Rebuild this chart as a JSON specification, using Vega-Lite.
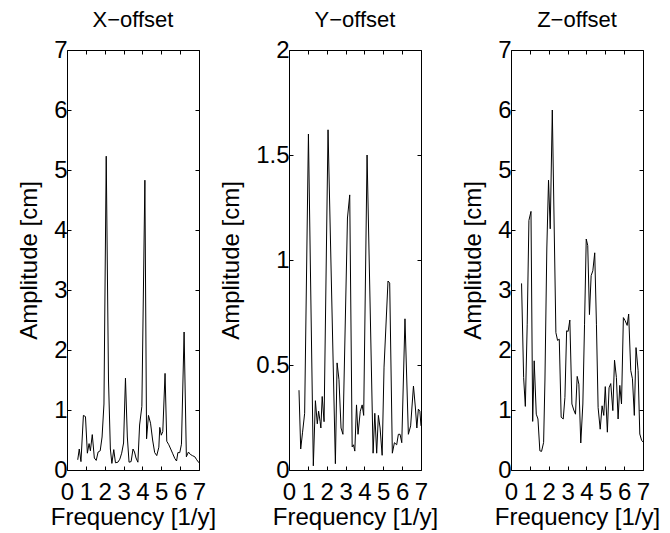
{
  "$schema": "https://vega.github.io/schema/vega-lite/v6.json",
  "background": "white",
  "padding": {"left": 17, "top": 9, "right": 3, "bottom": 3},
  "datasets": {
    "X": [
      {"f":0.57,"a":0.17},{"f":0.65,"a":0.35},{"f":0.74,"a":0.14},{"f":0.87,"a":0.91},{"f":0.98,"a":0.89},{"f":1.08,"a":0.28},{"f":1.17,"a":0.44},{"f":1.24,"a":0.32},{"f":1.34,"a":0.59},{"f":1.45,"a":0.2},{"f":1.55,"a":0.16},{"f":1.65,"a":0.3},{"f":1.76,"a":0.32},{"f":1.86,"a":0.55},{"f":1.96,"a":1.1},{"f":2.08,"a":5.23},{"f":2.2,"a":1.5},{"f":2.3,"a":0.35},{"f":2.38,"a":0.11},{"f":2.48,"a":0.34},{"f":2.57,"a":0.12},{"f":2.7,"a":0.13},{"f":2.8,"a":0.18},{"f":2.9,"a":0.28},{"f":3.0,"a":0.45},{"f":3.1,"a":1.53},{"f":3.2,"a":0.55},{"f":3.29,"a":0.13},{"f":3.4,"a":0.14},{"f":3.5,"a":0.35},{"f":3.58,"a":0.3},{"f":3.66,"a":0.2},{"f":3.76,"a":0.13},{"f":3.85,"a":0.75},{"f":3.97,"a":1.06},{"f":4.13,"a":4.83},{"f":4.22,"a":0.52},{"f":4.32,"a":0.91},{"f":4.43,"a":0.78},{"f":4.54,"a":0.5},{"f":4.65,"a":0.29},{"f":4.76,"a":0.24},{"f":4.87,"a":0.38},{"f":4.92,"a":0.71},{"f":5.0,"a":0.58},{"f":5.08,"a":0.64},{"f":5.2,"a":1.61},{"f":5.29,"a":0.48},{"f":5.4,"a":0.42},{"f":5.5,"a":0.35},{"f":5.61,"a":0.27},{"f":5.72,"a":0.19},{"f":5.81,"a":0.15},{"f":5.88,"a":0.29},{"f":5.98,"a":0.29},{"f":6.07,"a":0.43},{"f":6.21,"a":2.3},{"f":6.33,"a":0.22},{"f":6.44,"a":0.3},{"f":6.54,"a":0.26},{"f":6.65,"a":0.24},{"f":6.78,"a":0.22},{"f":6.88,"a":0.17},{"f":7.0,"a":0.12}
    ],
    "Y": [
      {"f":0.53,"a":0.38},{"f":0.62,"a":0.1},{"f":0.72,"a":0.18},{"f":0.83,"a":0.27},{"f":1.03,"a":1.6},{"f":1.29,"a":0.02},{"f":1.4,"a":0.33},{"f":1.5,"a":0.22},{"f":1.57,"a":0.28},{"f":1.65,"a":0.23},{"f":1.69,"a":0.2},{"f":1.76,"a":0.35},{"f":1.86,"a":0.23},{"f":2.07,"a":1.62},{"f":2.46,"a":0.03},{"f":2.55,"a":0.51},{"f":2.65,"a":0.43},{"f":2.76,"a":0.2},{"f":2.86,"a":0.17},{"f":3.1,"a":1.2},{"f":3.22,"a":1.31},{"f":3.35,"a":0.11},{"f":3.42,"a":0.12},{"f":3.49,"a":0.09},{"f":3.58,"a":0.31},{"f":3.66,"a":0.17},{"f":3.78,"a":0.28},{"f":3.88,"a":0.31},{"f":3.96,"a":0.26},{"f":4.14,"a":1.5},{"f":4.46,"a":0.08},{"f":4.55,"a":0.27},{"f":4.65,"a":0.08},{"f":4.74,"a":0.26},{"f":4.83,"a":0.2},{"f":4.94,"a":0.07},{"f":5.04,"a":0.49},{"f":5.25,"a":0.9},{"f":5.34,"a":0.89},{"f":5.48,"a":0.08},{"f":5.59,"a":0.13},{"f":5.71,"a":0.12},{"f":5.8,"a":0.17},{"f":5.89,"a":0.17},{"f":5.98,"a":0.13},{"f":6.15,"a":0.72},{"f":6.33,"a":0.17},{"f":6.45,"a":0.21},{"f":6.6,"a":0.4},{"f":6.7,"a":0.3},{"f":6.78,"a":0.2},{"f":6.86,"a":0.29},{"f":6.94,"a":0.28},{"f":7.0,"a":0.21}
    ],
    "Z": [
      {"f":0.56,"a":3.11},{"f":0.67,"a":1.54},{"f":0.76,"a":1.06},{"f":0.86,"a":2.43},{"f":0.95,"a":4.16},{"f":1.06,"a":4.31},{"f":1.15,"a":0.81},{"f":1.23,"a":1.82},{"f":1.34,"a":0.93},{"f":1.43,"a":0.85},{"f":1.53,"a":0.32},{"f":1.62,"a":0.31},{"f":1.73,"a":0.46},{"f":1.8,"a":1.5},{"f":1.9,"a":3.7},{"f":1.99,"a":4.83},{"f":2.08,"a":4.02},{"f":2.19,"a":6.0},{"f":2.38,"a":2.29},{"f":2.47,"a":2.16},{"f":2.56,"a":2.18},{"f":2.66,"a":0.88},{"f":2.77,"a":0.85},{"f":2.86,"a":1.21},{"f":2.95,"a":2.32},{"f":3.03,"a":2.31},{"f":3.12,"a":2.5},{"f":3.23,"a":1.1},{"f":3.33,"a":1.0},{"f":3.42,"a":0.93},{"f":3.51,"a":1.56},{"f":3.6,"a":1.43},{"f":3.7,"a":0.45},{"f":3.81,"a":1.1},{"f":3.9,"a":2.43},{"f":3.99,"a":3.85},{"f":4.07,"a":3.74},{"f":4.16,"a":2.59},{"f":4.25,"a":3.24},{"f":4.34,"a":3.32},{"f":4.44,"a":3.62},{"f":4.53,"a":2.43},{"f":4.62,"a":1.04},{"f":4.73,"a":0.68},{"f":4.83,"a":1.07},{"f":4.92,"a":0.91},{"f":5.0,"a":1.39},{"f":5.11,"a":0.63},{"f":5.2,"a":1.37},{"f":5.29,"a":1.44},{"f":5.4,"a":0.99},{"f":5.49,"a":1.83},{"f":5.59,"a":1.54},{"f":5.68,"a":0.85},{"f":5.77,"a":1.41},{"f":5.86,"a":1.1},{"f":5.96,"a":2.54},{"f":6.05,"a":2.49},{"f":6.16,"a":2.41},{"f":6.24,"a":2.6},{"f":6.35,"a":1.66},{"f":6.44,"a":1.52},{"f":6.54,"a":0.91},{"f":6.63,"a":2.04},{"f":6.74,"a":1.66},{"f":6.83,"a":0.6},{"f":6.93,"a":0.49},{"f":7.0,"a":0.47}
    ]
  },
  "hconcat": [
    {
      "width": 132, "height": 420,
      "title": {"text": "X−offset"},
      "data": {"name": "X"},
      "layer": [
        {"mark": {"type": "line", "color": "black", "strokeWidth": 1},
         "encoding": {
           "x": {"field": "f", "type": "quantitative", "scale": {"domain": [0, 7], "nice": false, "zero": false},
                 "axis": {"orient": "bottom", "values": [0,1,2,3,4,5,6,7], "title": "Frequency [1/y]"}},
           "y": {"field": "a", "type": "quantitative", "scale": {"domain": [0, 7], "nice": false},
                 "axis": {"orient": "left", "values": [0,1,2,3,4,5,6,7], "title": "Amplitude [cm]"}}
         }},
        {"mark": {"type": "line", "opacity": 0},
         "encoding": {
           "x": {"field": "f", "type": "quantitative", "scale": {"domain": [0, 7], "nice": false, "zero": false},
                 "axis": {"orient": "top", "values": [0,1,2,3,4,5,6,7], "labels": false, "title": null}},
           "y": {"field": "a", "type": "quantitative", "scale": {"domain": [0, 7], "nice": false},
                 "axis": {"orient": "right", "values": [0,1,2,3,4,5,6,7], "labels": false, "title": null}}
         }}
      ],
      "resolve": {"axis": {"x": "independent", "y": "independent"}}
    },
    {
      "width": 132, "height": 420,
      "title": {"text": "Y−offset"},
      "data": {"name": "Y"},
      "layer": [
        {"mark": {"type": "line", "color": "black", "strokeWidth": 1},
         "encoding": {
           "x": {"field": "f", "type": "quantitative", "scale": {"domain": [0, 7], "nice": false, "zero": false},
                 "axis": {"orient": "bottom", "values": [0,1,2,3,4,5,6,7], "title": "Frequency [1/y]"}},
           "y": {"field": "a", "type": "quantitative", "scale": {"domain": [0, 2], "nice": false},
                 "axis": {"orient": "left", "values": [0,0.5,1,1.5,2], "format": "~g", "title": "Amplitude [cm]"}}
         }},
        {"mark": {"type": "line", "opacity": 0},
         "encoding": {
           "x": {"field": "f", "type": "quantitative", "scale": {"domain": [0, 7], "nice": false, "zero": false},
                 "axis": {"orient": "top", "values": [0,1,2,3,4,5,6,7], "labels": false, "title": null}},
           "y": {"field": "a", "type": "quantitative", "scale": {"domain": [0, 2], "nice": false},
                 "axis": {"orient": "right", "values": [0,0.5,1,1.5,2], "labels": false, "title": null}}
         }}
      ],
      "resolve": {"axis": {"x": "independent", "y": "independent"}}
    },
    {
      "width": 132, "height": 420,
      "title": {"text": "Z−offset"},
      "data": {"name": "Z"},
      "layer": [
        {"mark": {"type": "line", "color": "black", "strokeWidth": 1},
         "encoding": {
           "x": {"field": "f", "type": "quantitative", "scale": {"domain": [0, 7], "nice": false, "zero": false},
                 "axis": {"orient": "bottom", "values": [0,1,2,3,4,5,6,7], "title": "Frequency [1/y]"}},
           "y": {"field": "a", "type": "quantitative", "scale": {"domain": [0, 7], "nice": false},
                 "axis": {"orient": "left", "values": [0,1,2,3,4,5,6,7], "title": "Amplitude [cm]"}}
         }},
        {"mark": {"type": "line", "opacity": 0},
         "encoding": {
           "x": {"field": "f", "type": "quantitative", "scale": {"domain": [0, 7], "nice": false, "zero": false},
                 "axis": {"orient": "top", "values": [0,1,2,3,4,5,6,7], "labels": false, "title": null}},
           "y": {"field": "a", "type": "quantitative", "scale": {"domain": [0, 7], "nice": false},
                 "axis": {"orient": "right", "values": [0,1,2,3,4,5,6,7], "labels": false, "title": null}}
         }}
      ],
      "resolve": {"axis": {"x": "independent", "y": "independent"}}
    }
  ],
  "spacing": 90,
  "bounds": "flush",
  "config": {
    "font": "Liberation Sans",
    "view": {"stroke": null},
    "axis": {
      "grid": false,
      "domainColor": "black",
      "domainWidth": 1,
      "tickColor": "black",
      "tickSize": -4,
      "labelColor": "black",
      "labelFontSize": 24,
      "labelFlush": false,
      "labelOverlap": false,
      "titleColor": "black",
      "titleFontSize": 24,
      "titleFontWeight": "normal"
    },
    "axisX": {"labelPadding": 14, "titlePadding": 1},
    "axisY": {"labelPadding": 4, "titlePadding": 12},
    "title": {"fontSize": 22, "fontWeight": "normal", "color": "black", "offset": 6}
  }
}
